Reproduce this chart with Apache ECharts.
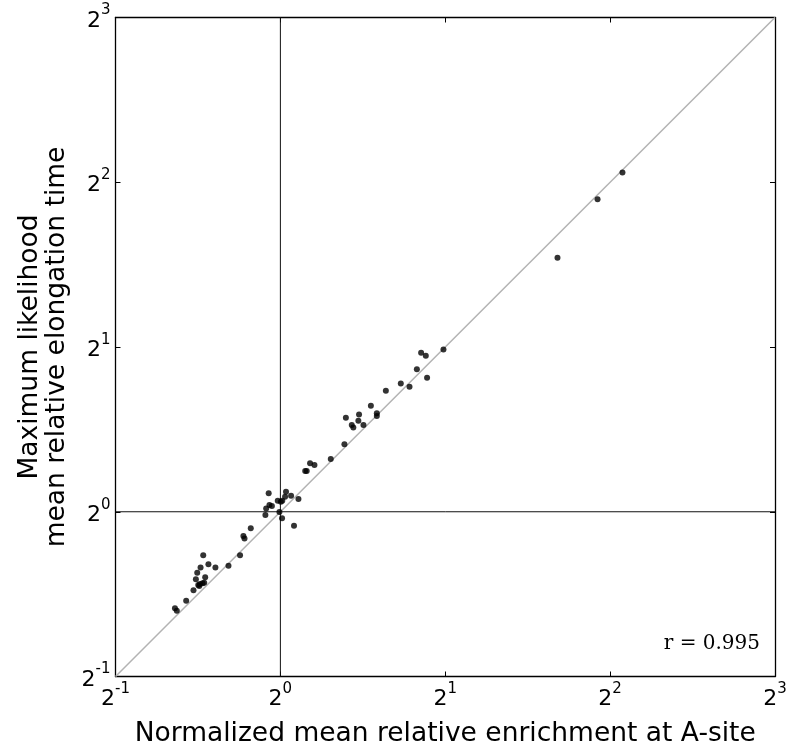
<!DOCTYPE html>
<html>
<head>
<meta charset="utf-8">
<script src="https://cdn.jsdelivr.net/npm/echarts@6/dist/echarts.min.js"></script>
<style>
  html, body { margin: 0; padding: 0; background: #fff; }
  #chart { width: 788px; height: 748px; }
</style>
</head>
<body>
<div id="chart"></div>
<script>
// Normalized mean relative enrichment at the A-site, one value per codon
const enrichment = [
  0.642, 0.647, 0.673, 0.694, 0.708, 0.713, 0.721, 0.726, 0.711, 0.701,
  0.729, 0.705, 0.715, 0.739, 0.723, 0.761, 0.804, 0.844, 0.856, 0.860,
  0.883, 0.939, 0.942, 0.955, 0.965, 0.952, 0.989, 1.002, 1.008, 0.996,
  1.007, 1.024, 1.020, 1.046, 1.079, 1.059, 1.110, 1.117, 1.133, 1.154,
  1.236, 1.309, 1.317, 1.350, 1.359, 1.392, 1.388, 1.418, 1.463, 1.500,
  1.500, 1.558, 1.659, 1.721, 1.775, 1.807, 1.843, 1.853, 1.985, 3.206,
  3.794, 4.213
];
// Maximum likelihood mean relative elongation time, same codon order
const elongation = [
  0.666, 0.659, 0.688, 0.719, 0.735, 0.738, 0.740, 0.742, 0.732, 0.753,
  0.759, 0.774, 0.791, 0.802, 0.833, 0.791, 0.797, 0.833, 0.903, 0.894,
  0.933, 0.986, 1.014, 1.029, 1.024, 1.081, 1.047, 1.043, 1.047, 0.999,
  0.973, 1.088, 1.065, 1.070, 1.055, 0.943, 1.187, 1.187, 1.226, 1.217,
  1.248, 1.328, 1.485, 1.440, 1.426, 1.506, 1.466, 1.440, 1.562, 1.513,
  1.496, 1.664, 1.716, 1.692, 1.822, 1.952, 1.927, 1.757, 1.980, 2.910,
  3.725, 4.168
];
// Axis range and tick exponents (base 2)
const axisMin = 0.5;
const axisMax = 8;
const tickExponents = [-1, 0, 1, 2, 3];
const correlationText = 'r = 0.995';

const points = enrichment.map((x, i) => [x, elongation[i]]);

const FONT = 'DejaVu Sans';
const labelRich = {
  b: { fontFamily: FONT, fontSize: 22, color: '#000', lineHeight: 29, verticalAlign: 'bottom' },
  s: { fontFamily: FONT, fontSize: 15, color: '#000', lineHeight: 15, verticalAlign: 'top' }
};
function powLabel(v) {
  const e = Math.round(Math.log2(v));
  if (tickExponents.indexOf(e) < 0) return '';
  return '{b|2}{s|' + e + '}';
}

const baseAxis = {
  type: 'log',
  logBase: 2,
  min: axisMin,
  max: axisMax,
  splitLine: { show: false },
  minorTick: { show: false },
  axisLine: { show: true, onZero: false, lineStyle: { color: '#000', width: 1.3 } },
  axisTick: { show: true, inside: true, length: 5, lineStyle: { color: '#000', width: 1 } }
};

const chart = echarts.init(document.getElementById('chart'), null, { renderer: 'canvas' });
chart.setOption({
  animation: false,
  backgroundColor: '#fff',
  grid: { left: 115.5, right: 13, top: 17.5, bottom: 71.5, containLabel: false, outerBoundsMode: 'none' },
  xAxis: [
    Object.assign({}, baseAxis, {
      position: 'bottom',
      name: 'Normalized mean relative enrichment at A-site',
      nameLocation: 'middle',
      nameGap: 44,
      nameTextStyle: { fontFamily: FONT, fontSize: 26.5, color: '#000' },
      axisLabel: { margin: 5, formatter: powLabel, rich: labelRich }
    }),
    Object.assign({}, baseAxis, { position: 'top', axisLabel: { show: false } })
  ],
  yAxis: [
    Object.assign({}, baseAxis, {
      position: 'left',
      name: 'Maximum likelihood\nmean relative elongation time',
      nameLocation: 'middle',
      nameGap: 35,
      nameRotate: 90,
      nameTextStyle: { fontFamily: FONT, fontSize: 26.5, color: '#000', lineHeight: 27 },
      axisLabel: { margin: 5, formatter: powLabel, rich: labelRich }
    }),
    Object.assign({}, baseAxis, { position: 'right', axisLabel: { show: false } })
  ],
  graphic: [{
    type: 'text',
    right: 28,
    top: 634,
    style: { text: correlationText, font: '20px "DejaVu Serif"', fill: '#000' }
  }],
  series: [
    {
      // identity line y = x
      type: 'line',
      data: [[axisMin, axisMin], [axisMax, axisMax]],
      symbol: 'none',
      lineStyle: { color: '#b3b3b3', width: 1.5 },
      z: 1
    },
    {
      // reference lines at 2^0 on both axes
      type: 'line',
      data: [[1, axisMin], [1, axisMax]],
      symbol: 'none',
      lineStyle: { color: '#111', width: 1 },
      z: 1
    },
    {
      type: 'line',
      data: [[axisMin, 1], [axisMax, 1]],
      symbol: 'none',
      lineStyle: { color: '#111', width: 1 },
      z: 1
    },
    {
      type: 'scatter',
      data: points,
      symbol: 'circle',
      symbolSize: 6,
      itemStyle: { color: '#000' },
      z: 3
    }
  ]
});
</script>
</body>
</html>
